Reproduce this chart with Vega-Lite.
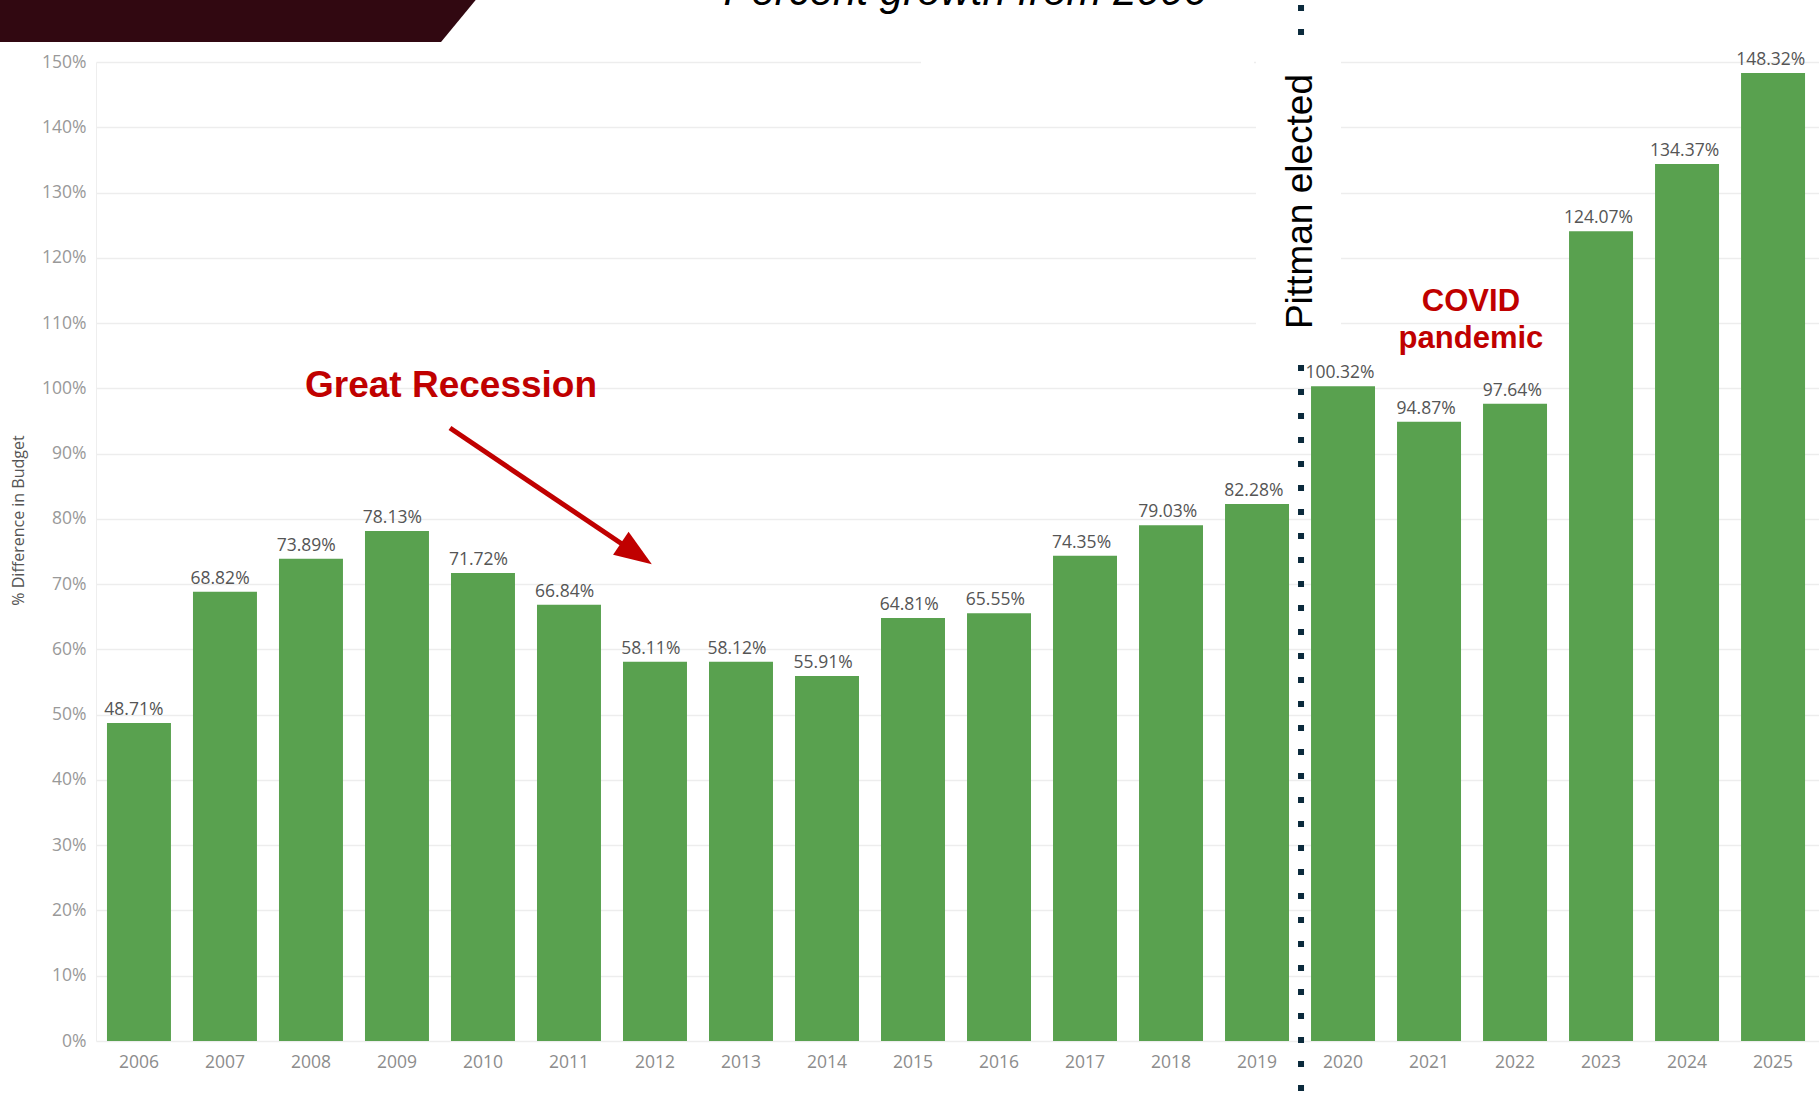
{
  "$schema": "https://vega.github.io/schema/vega-lite/v6.json",
  "width": 1723,
  "height": 979,
  "autosize": {"type": "none"},
  "padding": {"left": 96, "top": 62, "right": 0, "bottom": 54},
  "background": "white",
  "config": {"view": {"stroke": null}},
  "datasets": {
    "bars": [
      {"year": "2006", "value": 0.4871},
      {"year": "2007", "value": 0.6882},
      {"year": "2008", "value": 0.7389},
      {"year": "2009", "value": 0.7813},
      {"year": "2010", "value": 0.7172},
      {"year": "2011", "value": 0.6684},
      {"year": "2012", "value": 0.5811},
      {"year": "2013", "value": 0.5812},
      {"year": "2014", "value": 0.5591},
      {"year": "2015", "value": 0.6481},
      {"year": "2016", "value": 0.6555},
      {"year": "2017", "value": 0.7435},
      {"year": "2018", "value": 0.7903},
      {"year": "2019", "value": 0.8228},
      {"year": "2020", "value": 1.0032},
      {"year": "2021", "value": 0.9487},
      {"year": "2022", "value": 0.9764},
      {"year": "2023", "value": 1.2407},
      {"year": "2024", "value": 1.3437},
      {"year": "2025", "value": 1.4832}
    ],
    "banner": [
      {"x": 2004.2, "x2": 2009.965, "y": 1.603},
      {"x": 2004.2, "x2": 2009.512, "y": 1.5306}
    ],
    "boxes": [
      {"x": 2015.093, "x2": 2018.965, "y": 1.62, "y2": 1.4417},
      {"x": 2018.988, "x2": 2019.977, "y": 1.62, "y2": 1.066}
    ],
    "dots": [
      {"x": 2019.512, "y": 1.5873, "y2": 1.5336},
      {"x": 2019.512, "y": 1.0357, "y2": -0.09}
    ],
    "arrow": [{"x": 2009.616, "y": 0.9392, "x2": 2011.651, "y2": 0.7584}],
    "head": [{"x": 2011.783, "y": 0.7465}],
    "recession": [{"x": 2009.628, "y": 0.9867, "label": "Great Recession"}],
    "covid": [
      {"x": 2021.488, "y": 1.1184, "label": "COVID"},
      {"x": 2021.488, "y": 1.0617, "label": "pandemic"}
    ],
    "pittman": [{"x": 2019.64, "y": 1.2862, "label": "Pittman elected"}],
    "title": [{"x": 2015.605, "y": 1.5873, "label": "Percent growth from 2006"}]
  },
  "layer": [
    {
      "data": {"name": "banner"},
      "mark": {"type": "area", "orient": "horizontal", "color": "#310811"},
      "encoding": {
        "x": {"field": "x", "type": "quantitative", "scale": {"domain": [2005.5, 2025.535], "nice": false, "zero": false}, "axis": null},
        "x2": {"field": "x2"},
        "y": {"field": "y", "type": "quantitative", "scale": {"domain": [0, 1.5], "nice": false, "zero": false}, "axis": null}
      }
    },
    {
      "data": {"name": "bars"},
      "mark": {"type": "bar", "color": "#59a14f"},
      "encoding": {
        "x": {
          "field": "year", "type": "nominal",
          "scale": {"paddingInner": 0.256, "paddingOuter": 0.145, "align": 0.44},
          "axis": {"title": null, "labelAngle": 0, "domain": false, "ticks": false, "tickSize": 0, "labelPadding": 21, "labelBaseline": "middle", "labelFont": "Open Sans", "labelFontSize": 17.5, "labelColor": "#8c8c8c"}
        },
        "y": {
          "field": "value", "type": "quantitative",
          "scale": {"domain": [0, 1.5], "nice": false, "zero": false},
          "axis": {"title": "% Difference in Budget", "format": ".0%", "tickCount": 15, "grid": true, "gridColor": "#ededed", "gridWidth": 1.5, "domain": true, "domainColor": "#eeeeee", "ticks": false, "tickSize": 0, "labelPadding": 10, "labelFont": "Open Sans", "labelFontSize": 17.5, "labelColor": "#999999", "titleFont": "Open Sans", "titleFontSize": 16, "titleFontWeight": "normal", "titleColor": "#555555", "titleX": -78, "titleY": 458, "titleAngle": -90, "titleAlign": "center", "titleBaseline": "middle"}
        }
      }
    },
    {
      "data": {"name": "boxes"},
      "mark": {"type": "rect", "color": "white"},
      "encoding": {
        "x": {"field": "x", "type": "quantitative", "scale": {"domain": [2005.5, 2025.535], "nice": false, "zero": false}, "axis": null},
        "x2": {"field": "x2"},
        "y": {"field": "y", "type": "quantitative", "scale": {"domain": [0, 1.5], "nice": false, "zero": false}, "axis": null},
        "y2": {"field": "y2"}
      }
    },
    {
      "data": {"name": "bars"},
      "mark": {"type": "text", "baseline": "alphabetic", "dy": -8, "font": "Open Sans", "fontSize": 17.5, "color": "#555555"},
      "encoding": {
        "x": {"field": "year", "type": "nominal", "scale": {"paddingInner": 0.256, "paddingOuter": 0.145, "align": 0.44}, "axis": null},
        "y": {"field": "value", "type": "quantitative", "scale": {"domain": [0, 1.5], "nice": false, "zero": false}, "axis": null},
        "text": {"field": "value", "format": ".2%"}
      }
    },
    {
      "data": {"name": "dots"},
      "mark": {"type": "rule", "color": "#0b2a3c", "strokeWidth": 6, "strokeDash": [6, 18], "strokeCap": "butt"},
      "encoding": {
        "x": {"field": "x", "type": "quantitative", "scale": {"domain": [2005.5, 2025.535], "nice": false, "zero": false}, "axis": null},
        "y": {"field": "y", "type": "quantitative", "scale": {"domain": [0, 1.5], "nice": false, "zero": false}, "axis": null},
        "y2": {"field": "y2"}
      }
    },
    {
      "data": {"name": "arrow"},
      "mark": {"type": "rule", "color": "#c00000", "strokeWidth": 5, "strokeCap": "butt"},
      "encoding": {
        "x": {"field": "x", "type": "quantitative", "scale": {"domain": [2005.5, 2025.535], "nice": false, "zero": false}, "axis": null},
        "x2": {"field": "x2"},
        "y": {"field": "y", "type": "quantitative", "scale": {"domain": [0, 1.5], "nice": false, "zero": false}, "axis": null},
        "y2": {"field": "y2"}
      }
    },
    {
      "data": {"name": "head"},
      "mark": {"type": "point", "shape": "M1,0L-1,-0.74L-1,0.74Z", "size": 1400, "angle": 34, "filled": true, "opacity": 1, "color": "#c00000"},
      "encoding": {
        "x": {"field": "x", "type": "quantitative", "scale": {"domain": [2005.5, 2025.535], "nice": false, "zero": false}, "axis": null},
        "y": {"field": "y", "type": "quantitative", "scale": {"domain": [0, 1.5], "nice": false, "zero": false}, "axis": null}
      }
    },
    {
      "data": {"name": "recession"},
      "mark": {"type": "text", "align": "center", "baseline": "alphabetic", "font": "Liberation Sans", "fontWeight": "bold", "fontSize": 37, "color": "#c00000"},
      "encoding": {
        "x": {"field": "x", "type": "quantitative", "scale": {"domain": [2005.5, 2025.535], "nice": false, "zero": false}, "axis": null},
        "y": {"field": "y", "type": "quantitative", "scale": {"domain": [0, 1.5], "nice": false, "zero": false}, "axis": null},
        "text": {"field": "label"}
      }
    },
    {
      "data": {"name": "covid"},
      "mark": {"type": "text", "align": "center", "baseline": "alphabetic", "font": "Liberation Sans", "fontWeight": "bold", "fontSize": 31, "color": "#c00000"},
      "encoding": {
        "x": {"field": "x", "type": "quantitative", "scale": {"domain": [2005.5, 2025.535], "nice": false, "zero": false}, "axis": null},
        "y": {"field": "y", "type": "quantitative", "scale": {"domain": [0, 1.5], "nice": false, "zero": false}, "axis": null},
        "text": {"field": "label"}
      }
    },
    {
      "data": {"name": "pittman"},
      "mark": {"type": "text", "align": "center", "baseline": "alphabetic", "angle": 270, "font": "Liberation Sans", "fontSize": 37, "color": "#000000"},
      "encoding": {
        "x": {"field": "x", "type": "quantitative", "scale": {"domain": [2005.5, 2025.535], "nice": false, "zero": false}, "axis": null},
        "y": {"field": "y", "type": "quantitative", "scale": {"domain": [0, 1.5], "nice": false, "zero": false}, "axis": null},
        "text": {"field": "label"}
      }
    },
    {
      "data": {"name": "title"},
      "mark": {"type": "text", "align": "center", "baseline": "alphabetic", "font": "Liberation Sans", "fontStyle": "italic", "fontSize": 42, "color": "#000000"},
      "encoding": {
        "x": {"field": "x", "type": "quantitative", "scale": {"domain": [2005.5, 2025.535], "nice": false, "zero": false}, "axis": null},
        "y": {"field": "y", "type": "quantitative", "scale": {"domain": [0, 1.5], "nice": false, "zero": false}, "axis": null},
        "text": {"field": "label"}
      }
    }
  ],
  "resolve": {
    "scale": {"x": "independent", "y": "independent"},
    "axis": {"x": "independent", "y": "independent"}
  }
}
